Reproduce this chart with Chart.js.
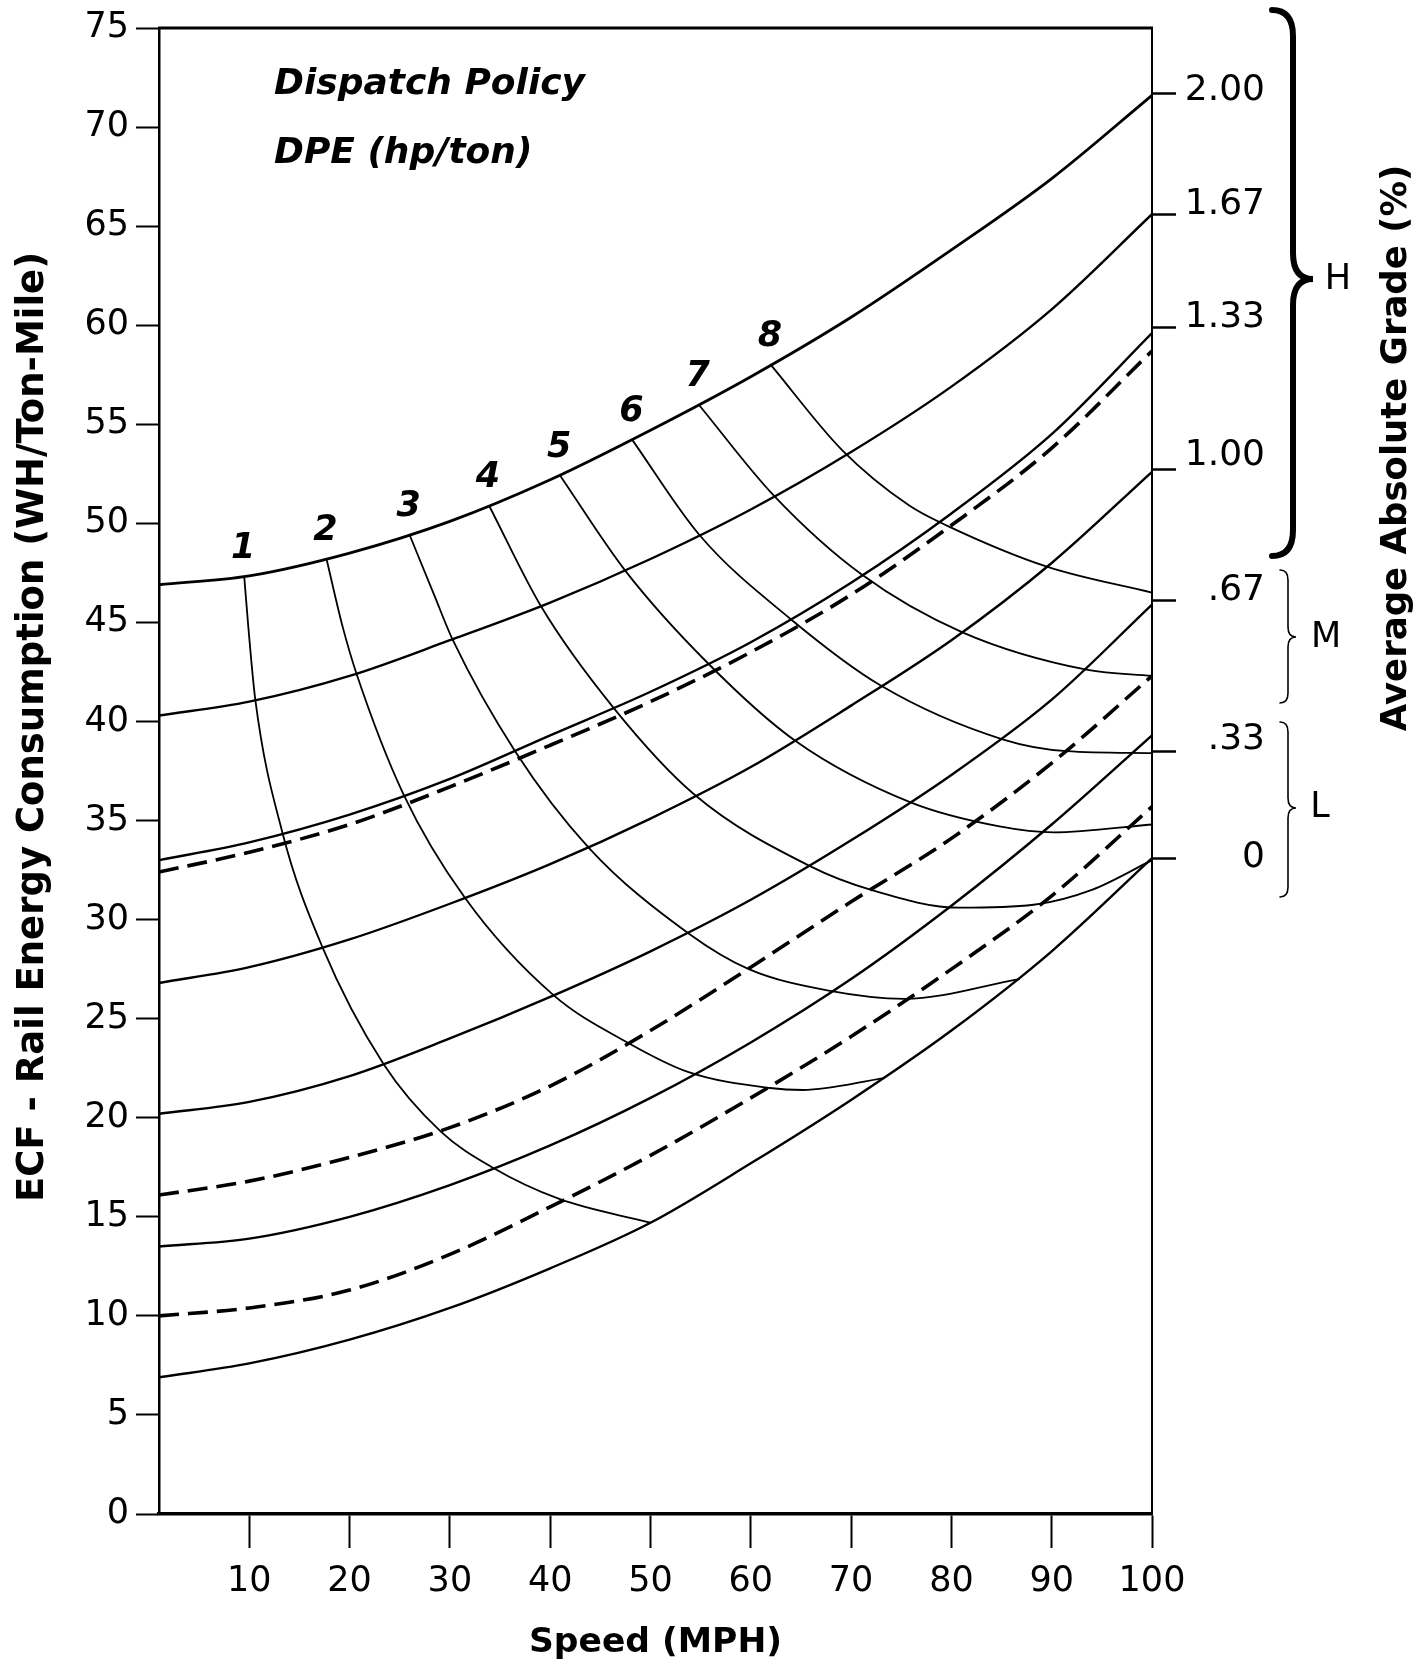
<!DOCTYPE html>
<html>
<head>
<meta charset="utf-8">
<title>ECF - Rail Energy Consumption vs Speed</title>
<script src="https://cdn.jsdelivr.net/npm/chart.js@4.4.1/dist/chart.umd.min.js"></script>
<style>
    html, body { margin: 0; padding: 0; background: #fff; }
    #wrap { width: 1417px; height: 1664px; }
</style>
</head>
<body>
<div id="wrap"><canvas id="ecfChart" width="1417" height="1664"></canvas></div>
<script>
// ========== DATA ==========
const speedGrid = [1, 10, 20, 30, 40, 50, 60, 70, 80, 90, 100];

// solid curves, one per average absolute grade (%)
const ecfGrade000 = [6.9, 7.6, 8.8, 10.4, 12.4, 14.7, 17.7, 20.9, 24.4, 28.4, 33.1];
const ecfGrade033 = [13.5, 13.9, 15.0, 16.6, 18.6, 21.0, 23.8, 27.0, 30.7, 34.8, 39.3];
const ecfGrade067 = [20.2, 20.8, 22.1, 24.0, 26.1, 28.4, 31.0, 34.0, 37.3, 41.1, 45.9];
const ecfGrade100 = [26.8, 27.6, 29.0, 30.8, 32.8, 35.1, 37.7, 40.8, 44.1, 48.0, 52.6];
const ecfGrade133 = [33.0, 33.9, 35.3, 37.1, 39.3, 41.5, 44.0, 47.0, 50.5, 54.5, 59.6];
const ecfGrade167 = [40.3, 41.0, 42.3, 44.1, 46.0, 48.2, 50.7, 53.6, 56.9, 60.8, 65.6];
const ecfGrade200 = [46.9, 47.35, 48.5, 50.1, 52.2, 54.7, 57.4, 60.4, 63.8, 67.4, 71.6];

// dashed curves
const ecfDashedLow  = [10.0, 10.4, 11.3, 13.1, 15.5, 18.1, 21.0, 24.1, 27.5, 31.2, 35.7];
const ecfDashedMid  = [16.1, 16.8, 18.0, 19.5, 21.6, 24.4, 27.6, 30.9, 34.1, 37.9, 42.3];
const ecfDashedHigh = [32.4, 33.4, 34.8, 36.7, 38.8, 41.0, 43.5, 46.4, 49.9, 53.8, 58.7];

// dispatch policy curves, DPE (hp/ton) 1..8
const dpe1Speed = [9.5, 9.9, 10.6, 13.3, 17.3, 23.4, 29.1, 34.2, 40.9, 50.0];
const dpe1Ecf   = [47.3, 44.8, 41.1, 34.4, 28.6, 22.7, 19.3, 17.5, 15.9, 14.7];
const dpe2Speed = [17.7, 19.3, 20.7, 25.4, 31.5, 40.3, 47.7, 53.8, 61.9, 65.2, 73.3];
const dpe2Ecf   = [48.2, 44.8, 42.4, 36.3, 31.1, 26.2, 23.8, 22.3, 21.5, 21.4, 22.0];
const dpe3Speed = [26.0, 28.5, 30.3, 36.5, 43.9, 53.8, 59.8, 67.9, 75.3, 86.8];
const dpe3Ecf   = [49.4, 46.3, 44.1, 38.5, 33.6, 29.3, 27.5, 26.4, 26.0, 27.0];
const dpe4Speed = [33.9, 39.1, 46.3, 54.4, 65.9, 72.0, 80.8, 88.2, 94.0, 100];
const dpe4Ecf   = [50.9, 45.8, 40.7, 36.3, 32.7, 31.5, 30.6, 30.75, 31.5, 33.0];
const dpe5Speed = [41.0, 47.5, 55.8, 64.5, 76.0, 84.8, 90.2, 100];
const dpe5Ecf   = [52.4, 47.6, 42.9, 39.0, 35.9, 34.7, 34.4, 34.8];
const dpe6Speed = [48.2, 54.9, 63.9, 73.0, 85.1, 91.5, 100];
const dpe6Ecf   = [54.2, 49.4, 45.2, 41.8, 39.1, 38.5, 38.4];
const dpe7Speed = [54.8, 62.3, 71.1, 81.1, 93.6, 100];
const dpe7Ecf   = [56.0, 51.4, 47.4, 44.5, 42.6, 42.3];
const dpe8Speed = [62.0, 69.1, 75.8, 79.5, 89.6, 100];
const dpe8Ecf   = [58.0, 53.7, 50.9, 49.9, 47.8, 46.5];

const dpeNames = ['1', '2', '3', '4', '5', '6', '7', '8'];

// axis ticks
const speedTicks = [10, 20, 30, 40, 50, 60, 70, 80, 90, 100];
const gradeTickValues = [33.1, 38.5, 46.1, 52.7, 59.9, 65.6, 71.7];
const gradeTickLabels = ['0', '.33', '.67', '1.00', '1.33', '1.67', '2.00'];

// ========== BUILD DATASETS ==========
function toPoints(xs, ys) {
    return xs.map((x, i) => ({ x: x, y: ys[i] }));
}

const gradeSeries = [ecfGrade000, ecfGrade033, ecfGrade067, ecfGrade100, ecfGrade133, ecfGrade167, ecfGrade200];
const dashedSeries = [ecfDashedLow, ecfDashedMid, ecfDashedHigh];
const dpeSpeeds = [dpe1Speed, dpe2Speed, dpe3Speed, dpe4Speed, dpe5Speed, dpe6Speed, dpe7Speed, dpe8Speed];
const dpeEcfs = [dpe1Ecf, dpe2Ecf, dpe3Ecf, dpe4Ecf, dpe5Ecf, dpe6Ecf, dpe7Ecf, dpe8Ecf];

const datasets = [];
gradeSeries.forEach((ys, i) => {
    datasets.push({
        label: 'Grade ' + gradeTickLabels[i],
        data: toPoints(speedGrid, ys),
        borderColor: '#000',
        borderWidth: i === 6 ? 2.8 : 2.4
    });
});
dashedSeries.forEach((ys, i) => {
    datasets.push({
        label: 'Dashed ' + (i + 1),
        data: toPoints(speedGrid, ys),
        borderColor: '#000',
        borderWidth: 3.6,
        borderDash: [20, 9]
    });
});
dpeSpeeds.forEach((xs, i) => {
    datasets.push({
        label: 'DPE ' + dpeNames[i],
        data: toPoints(xs, dpeEcfs[i]),
        borderColor: '#000',
        borderWidth: 1.8
    });
});

// ========== DECORATIONS ==========
function curlyBrace(ctx, edgeX, spineX, tipX, top, bottom, mid, r) {
    ctx.beginPath();
    ctx.moveTo(edgeX, top);
    ctx.quadraticCurveTo(spineX, top, spineX, top + r);
    ctx.lineTo(spineX, mid - r);
    ctx.quadraticCurveTo(spineX, mid, tipX, mid);
    ctx.quadraticCurveTo(spineX, mid, spineX, mid + r);
    ctx.lineTo(spineX, bottom - r);
    ctx.quadraticCurveTo(spineX, bottom, edgeX, bottom);
    ctx.stroke();
}

// small vertical nudges for the grade labels (label sits a bit above its tick)
const gradeLabelLift = [1, 12, 10, 14, 10, 10, 3];

const decorations = {
    id: 'decorations',
    afterDraw(chart) {
        const ctx = chart.ctx;
        const area = chart.chartArea;
        const xs = chart.scales.x;
        const ys = chart.scales.y;
        const y2 = chart.scales.y2;
        ctx.save();
        ctx.fillStyle = '#000';
        ctx.strokeStyle = '#000';

        // top frame line
        ctx.lineWidth = 3;
        ctx.beginPath();
        ctx.moveTo(area.left - 1, area.top);
        ctx.lineTo(area.right + 1, area.top);
        ctx.stroke();

        // annotation text
        ctx.font = 'italic bold 36px "DejaVu Sans"';
        ctx.textAlign = 'left';
        ctx.textBaseline = 'middle';
        ctx.fillText('Dispatch Policy', area.left + 115, area.top + 57);
        ctx.fillText('DPE (hp/ton)', area.left + 115, area.top + 126);

        // DPE numbers at the start of each curve
        ctx.font = 'italic bold 35px "DejaVu Sans"';
        ctx.textAlign = 'center';
        dpeSpeeds.forEach((sp, i) => {
            const px = xs.getPixelForValue(sp[0]);
            const py = ys.getPixelForValue(dpeEcfs[i][0]);
            ctx.fillText(dpeNames[i], px - 1, py - 28);
        });

        // grade labels on the right axis
        ctx.font = '36px "DejaVu Sans"';
        ctx.textAlign = 'right';
        gradeTickValues.forEach((v, i) => {
            ctx.fillText(gradeTickLabels[i], area.right + 113, y2.getPixelForValue(v) - gradeLabelLift[i]);
        });

        // braces H / M / L
        ctx.lineCap = 'round';
        ctx.lineWidth = 6;
        curlyBrace(ctx, area.right + 120, area.right + 141, area.right + 161, 10, 556, 279, 26);
        ctx.lineWidth = 1.6;
        curlyBrace(ctx, area.right + 128, area.right + 136, area.right + 144, 570, 703, 637, 10);
        curlyBrace(ctx, area.right + 128, area.right + 136, area.right + 144, 722, 897, 808, 10);

        ctx.font = '35px "DejaVu Sans"';
        ctx.textAlign = 'center';
        ctx.fillText('H', area.right + 186, 280);
        ctx.fillText('M', area.right + 174, 638);
        ctx.fillText('L', area.right + 168, 808);

        // rotated axis titles
        ctx.font = 'bold 35.5px "DejaVu Sans"';
        ctx.save();
        ctx.translate(1397, 448);
        ctx.rotate(-Math.PI / 2);
        ctx.fillText('Average Absolute Grade (%)', 0, 0);
        ctx.restore();

        ctx.font = 'bold 37px "DejaVu Sans"';
        ctx.save();
        ctx.translate(33, 727);
        ctx.rotate(-Math.PI / 2);
        ctx.fillText('ECF - Rail Energy Consumption (WH/Ton-Mile)', 0, 0);
        ctx.restore();

        ctx.restore();
    }
};

// ========== CHART ==========
const tickFont = { family: 'DejaVu Sans', size: 35 };

new Chart(document.getElementById('ecfChart'), {
    type: 'line',
    data: { datasets: datasets },
    options: {
        responsive: false,
        animation: false,
        devicePixelRatio: 1,
        layout: { padding: { top: 27, left: 0, right: 0, bottom: 0 } },
        elements: {
            point: { radius: 0 },
            line: { cubicInterpolationMode: 'monotone', fill: false }
        },
        plugins: {
            legend: { display: false },
            tooltip: { enabled: false }
        },
        scales: {
            x: {
                type: 'linear',
                min: 1,
                max: 100,
                afterBuildTicks: axis => { axis.ticks = speedTicks.map(v => ({ value: v })); },
                afterFit: axis => { axis.height = 150; },
                ticks: { color: '#000', font: tickFont, padding: 13, maxRotation: 0 },
                grid: { drawOnChartArea: false, color: '#000', tickLength: 34, tickWidth: 2 },
                border: { color: '#000', width: 3.5 },
                title: {
                    display: true,
                    text: 'Speed (MPH)',
                    color: '#000',
                    font: { family: 'DejaVu Sans', size: 34.5, weight: 'bold' },
                    padding: { top: 0, bottom: 0 }
                }
            },
            y: {
                type: 'linear',
                position: 'left',
                min: 0,
                max: 75,
                ticks: { stepSize: 5, color: '#000', font: tickFont, padding: 7 },
                afterFit: axis => { axis.width = 159; },
                grid: { drawOnChartArea: false, color: '#000', tickLength: 23, tickWidth: 2 },
                border: { color: '#000', width: 2.5 }
            },
            y2: {
                type: 'linear',
                position: 'right',
                min: 0,
                max: 75,
                afterBuildTicks: axis => { axis.ticks = gradeTickValues.map(v => ({ value: v })); },
                afterFit: axis => { axis.width = 265; },
                ticks: { display: false },
                grid: { drawOnChartArea: false, color: '#000', tickLength: 24, tickWidth: 2.5 },
                border: { color: '#000', width: 2 }
            }
        }
    },
    plugins: [decorations]
});
</script>
</body>
</html>
